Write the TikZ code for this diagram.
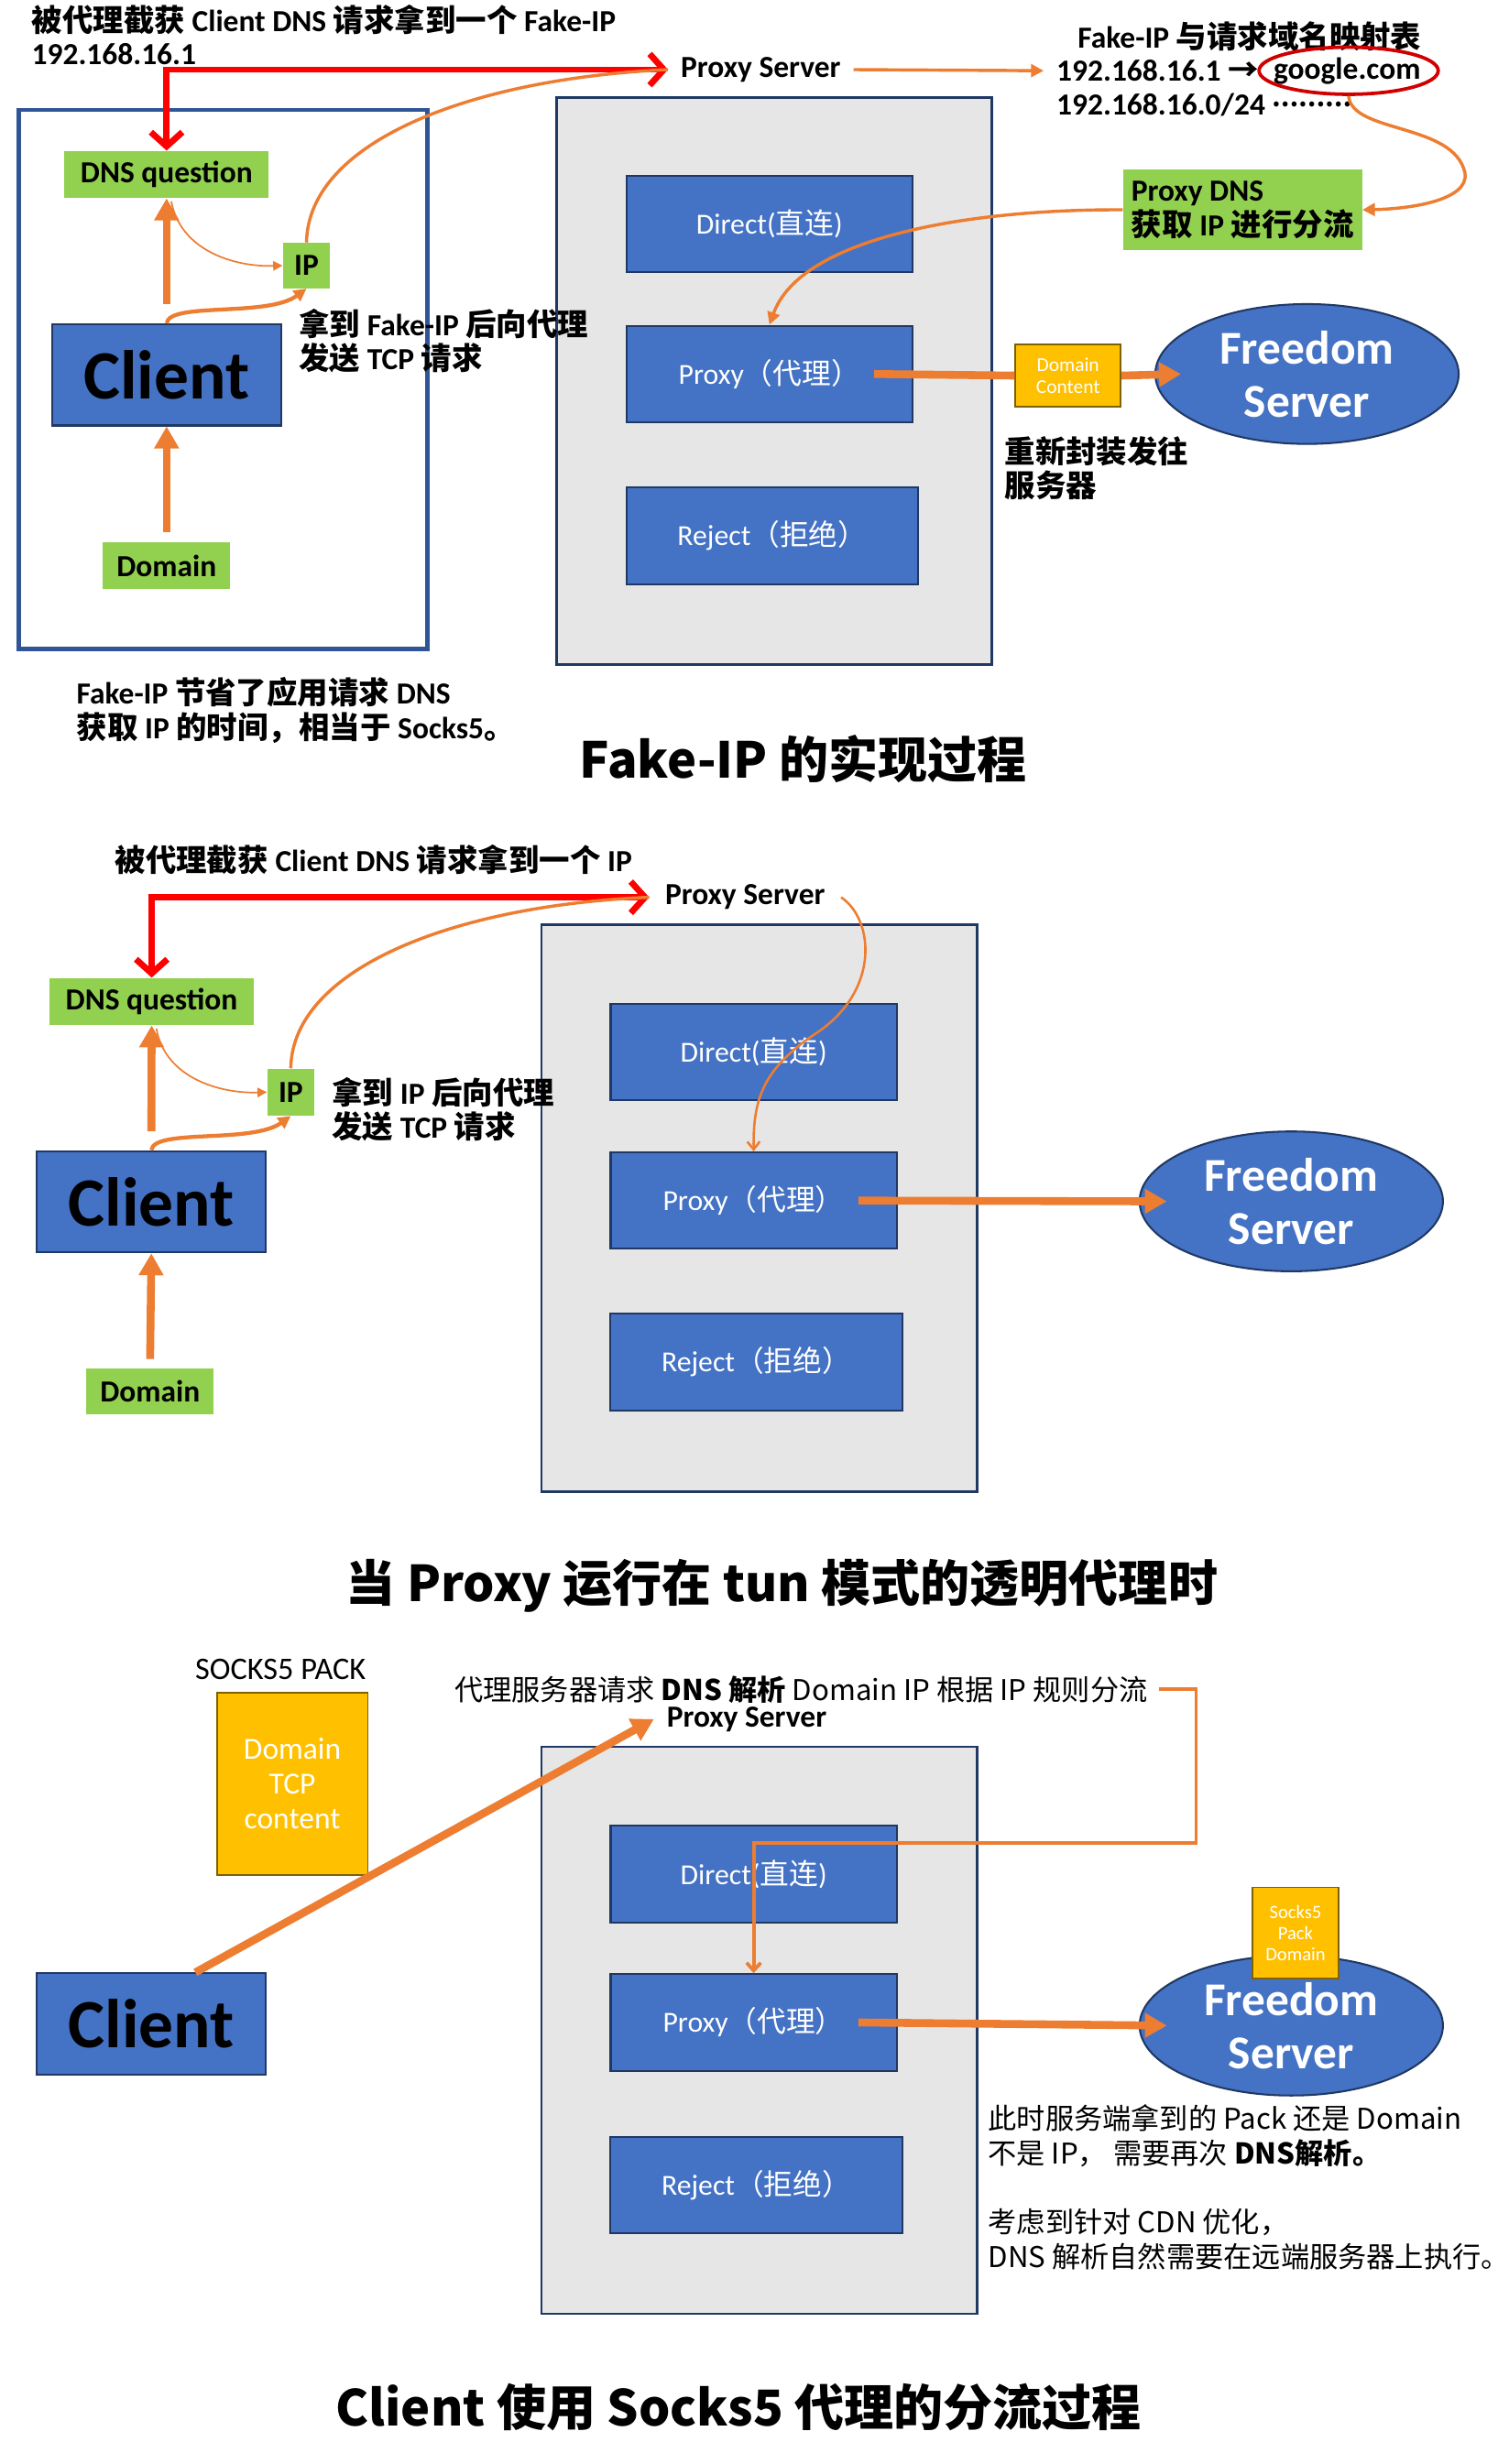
\documentclass[tikz,border=0pt]{standalone}
\usepackage{fontspec}
\setmainfont{Noto Sans CJK SC}
\newfontfamily\cjkfam{Noto Sans CJK SC}
\newfontfamily\latfam{Carlito}
\newXeTeXintercharclass\cjkcls
\newcount\mycnt
\mycnt="3000 \loop \XeTeXcharclass\mycnt=\cjkcls \ifnum\mycnt<"303F \advance\mycnt by 1 \repeat
\mycnt="4E00 \loop \XeTeXcharclass\mycnt=\cjkcls \ifnum\mycnt<"9FFF \advance\mycnt by 1 \repeat
\mycnt="FF00 \loop \XeTeXcharclass\mycnt=\cjkcls \ifnum\mycnt<"FFEF \advance\mycnt by 1 \repeat
\XeTeXcharclass"2026=\cjkcls
\XeTeXcharclass"2192=\cjkcls
\XeTeXinterchartoks 0 \cjkcls = {\cjkfam}
\XeTeXinterchartoks \cjkcls 0 = {\latfam}
\XeTeXinterchartoks 4095 \cjkcls = {\cjkfam}
\XeTeXinterchartoks 4095 0 = {\latfam}
\usetikzlibrary{arrows.meta,shapes.geometric,calc}
\definecolor{cblue}{HTML}{4472C4}
\definecolor{navy}{HTML}{203864}
\definecolor{outl}{HTML}{2F5597}
\definecolor{cgreen}{HTML}{92D050}
\definecolor{cyellow}{HTML}{FFC000}
\definecolor{ybord}{HTML}{7F6000}
\definecolor{cgray}{HTML}{E7E6E6}
\definecolor{corange}{HTML}{ED7D31}
\definecolor{cred}{HTML}{FF0000}
\definecolor{cdred}{HTML}{D00000}
\begin{document}
\begin{tikzpicture}[x=1pt,y=-1pt,
  every node/.style={inner sep=0pt},
  mix/.style={execute at begin node={\XeTeXinterchartokenstate=1\relax}},
  ann/.style={mix, font=\latfam\fontsize{19.5}{22}\selectfont\bfseries, align=left},
  annr/.style={font=\fontsize{18.2}{22}\selectfont, align=left},
  gbox/.style={mix, fill=cgreen, font=\latfam\fontsize{19.5}{22}\selectfont\bfseries},
  rbox/.style={mix, draw=navy, line width=1.2pt, fill=cblue, text=white, font=\latfam\fontsize{18.5}{22}\selectfont, minimum width=182pt, minimum height=61.5pt},
  cbox/.style={draw=navy, line width=1.2pt, fill=cblue, text=black, font=\latfam\fontsize{44}{48}\selectfont\bfseries, minimum width=146pt, minimum height=64.5pt},
  router/.style={draw=navy, line width=1.5pt, fill=cgray, minimum width=277pt, minimum height=361pt},
  area/.style={draw=outl, line width=2.5pt, minimum width=260pt, minimum height=343pt},
  srv/.style={ellipse, draw=navy, line width=1.2pt, fill=cblue, minimum width=193pt, minimum height=89pt},
  srvtext/.style={text=white, font=\latfam\fontsize{30}{34}\selectfont\bfseries, align=center},
  ybox/.style={fill=cyellow, draw=ybord, line width=1pt, text=white, align=center},
  ttl/.style={font=\fontsize{31.5}{36}\selectfont\bfseries},
  redarr/.style={draw=cred, line width=4pt, arrows={Straight Barb[length=9pt,width=20pt]-Straight Barb[length=9pt,width=20pt]}},
  ofat/.style={draw=corange, line width=5pt, -{Triangle[length=14pt,width=15pt]}},
  ofatl/.style={draw=corange, line width=5pt},
  omed/.style={draw=corange, line width=2.5pt, -{Triangle[length=8pt,width=8pt]}},
  omedl/.style={draw=corange, line width=2pt},
  omedb/.style={draw=corange, line width=2pt, -{Triangle[length=8pt,width=8pt]}},
  othin/.style={draw=corange, line width=1pt, -{Triangle[length=6pt,width=6pt]}},
  othinb/.style={draw=corange, line width=1.5pt, -{Straight Barb[length=5pt,width=8pt]}},
  obrk/.style={draw=corange, line width=2.2pt, -{Straight Barb[length=5pt,width=9pt]}}
]
\useasboundingbox (0,0) rectangle (960,1568);
\fill[white] (0,0) rectangle (960,1568);

% ================= Section 1 =================
\node[area] (area1) at (142,241.5) {};
\node[router] (router1) at (492.5,242.5) {};
\node[rbox] (direct1) at (489.5,142.5) {Direct(直连)};
\node[rbox] (proxy1) at (489.5,238) {Proxy（代理）};
\node[rbox, minimum width=185.5pt] (reject1) at (491.3,341) {Reject（拒绝）};
\node[gbox, minimum width=130pt, minimum height=30pt] (dns1) at (106,111) {DNS question};
\node[gbox, minimum width=30pt, minimum height=29pt] (ip1) at (195,169) {IP};
\node[cbox] (client1) at (106,238.5) {Client};
\node[gbox, minimum width=81pt, minimum height=30pt] (domain1) at (106,360) {Domain};
\node[ann, anchor=west, font=\latfam\fontsize{19.5}{21}\selectfont\bfseries] (s1t1) at (20,22) {被代理截获 Client DNS 请求拿到一个 Fake-IP\\192.168.16.1};
\node[ann, anchor=west, inner xsep=8pt] (ps1) at (425,44.3) {Proxy Server};
\node[ann] (map1) at (795,23) {Fake-IP 与请求域名映射表};
\node[ann, anchor=west, inner xsep=8pt] (map2) at (664,45) {192.168.16.1 →};
\node[ann] (goog) at (857,45) {google.com};
\node[ellipse, draw=cdred, line width=2.2pt, minimum width=114pt, minimum height=30pt] (gell) at (858,45) {};
\node[ann, anchor=west, inner xsep=8pt] (map3) at (664,66.5) {192.168.16.0/24 {\cjkfam\fontsize{15}{15}\selectfont\raisebox{5pt}{………}}};
\node[gbox, align=left, minimum width=152pt, minimum height=51pt] (pdns) at (790.5,133.5) {Proxy DNS\\获取 IP 进行分流};
\node[srv] (free1) at (831.5,238) {};
\node[srvtext] (free1t) at (free1.center) {Freedom\\Server};
\node[ybox, minimum width=67pt, minimum height=40pt, font=\latfam\fontsize{12.5}{14}\selectfont] (dc1) at (679.5,239) {Domain\\Content};
\node[ann, anchor=west] (s1t2) at (190,217) {拿到 Fake-IP 后向代理\\发送 TCP 请求};
\node[ann, anchor=west] (s1t3) at (639,298) {重新封装发往\\服务器};
\node[ann, anchor=west] (s1t4) at (48.5,452) {Fake-IP 节省了应用请求 DNS\\获取 IP 的时间，相当于 Socks5。};
\node[ttl] (title1) at (511,483) {Fake-IP 的实现过程};

\draw[redarr] (ps1.west) -| (dns1.north);
\draw[ofat] ([yshift=12pt]client1.north) -- (dns1.south);
\draw[ofat] ([yshift=6pt]domain1.north) -- (client1.south);
\draw[othin] ([xshift=3pt,yshift=-2pt]dns1.south) .. controls (115,160) and (150,170) .. (ip1.west);
\draw[omed] (client1.north) .. controls (108,192) and (170,202) .. (ip1.south);
\draw[omedl] (ip1.north) .. controls (196,90) and (300,50) .. (ps1.west);
\draw[omedb] (ps1.east) -- (map2.west);
\draw[omedb] (gell.south) .. controls (860,85) and (925,78) .. (932,110) .. controls (935,128) and (895,133) .. (pdns.east);
\draw[omedb] (pdns.west) .. controls (620,133) and (510,150) .. (proxy1.north);
\draw[ofatl] ([xshift=-25pt]proxy1.east) -- (dc1.west);
\draw[ofat] (dc1.east) -- ([xshift=17pt]free1.west);

% ================= Section 2 =================
\node[router] (router2) at (483,768.8) {};
\node[rbox] (direct2) at (479.5,669.4) {Direct(直连)};
\node[rbox] (proxy2) at (479.5,764) {Proxy（代理）};
\node[rbox, minimum width=185.5pt] (reject2) at (481.2,866.8) {Reject（拒绝）};
\node[gbox, minimum width=130pt, minimum height=30pt] (dns2) at (96.5,637.3) {DNS question};
\node[gbox, minimum width=30pt, minimum height=30pt] (ip2) at (185,695) {IP};
\node[cbox] (client2) at (96.3,764.7) {Client};
\node[gbox, minimum width=81pt, minimum height=29pt] (domain2) at (95.5,885.5) {Domain};
\node[ann, anchor=west] (s2t1) at (73,547) {被代理截获 Client DNS 请求拿到一个 IP};
\node[ann, anchor=west, inner xsep=10pt] (ps2) at (413,571) {Proxy Server};
\node[ann, anchor=west] (s2t2) at (211,706) {拿到 IP 后向代理\\发送 TCP 请求};
\node[srv] (free2) at (821.5,764.5) {};
\node[srvtext] (free2t) at (free2.center) {Freedom\\Server};
\node[ttl] (title2) at (497.5,1009) {当 Proxy 运行在 tun 模式的透明代理时};

\draw[redarr] (ps2.west) -| (dns2.north);
\draw[ofat] ([yshift=12pt]client2.north) -- (dns2.south);
\draw[ofat] ([yshift=6pt]domain2.north) -- (client2.south);
\draw[othin] ([xshift=3pt,yshift=-2pt]dns2.south) .. controls (105,686) and (140,696) .. (ip2.west);
\draw[omed] (client2.north) .. controls (98,718) and (160,728) .. (ip2.south);
\draw[omedl] (ip2.north) .. controls (186,616) and (290,576) .. (ps2.west);
\draw[othinb] (ps2.east) .. controls (556,585) and (560,630) .. (520,657) .. controls (485,680) and (479,700) .. (proxy2.north);
\draw[ofat] ([xshift=-25pt]proxy2.east) -- ([xshift=18pt]free2.west);

% ================= Section 3 =================
\node[router] (router3) at (483,1292) {};
\node[rbox] (direct3) at (479.5,1192.7) {Direct(直连)};
\node[rbox] (proxy3) at (479.5,1287) {Proxy（代理）};
\node[rbox, minimum width=185.5pt] (reject3) at (481.2,1390.5) {Reject（拒绝）};
\node[cbox] (client3) at (96.3,1288) {Client};
\node[font=\latfam\fontsize{20}{22}\selectfont] (sp) at (178.5,1062.6) {SOCKS5 PACK};
\node[ybox, minimum width=96pt, minimum height=116pt, font=\latfam\fontsize{19.5}{22}\selectfont] (pack) at (186,1135) {Domain\\TCP\\content};
\node[annr, anchor=west, inner xsep=7pt] (txt3) at (282,1075) {代理服务器请求 \textbf{DNS 解析} Domain IP 根据 IP 规则分流};
\node[ann, anchor=west, inner xsep=8pt] (ps3) at (416,1094) {Proxy Server};
\node[srv] (free3) at (821.5,1289) {};
\node[srvtext] (free3t) at (free3.center) {Freedom\\Server};
\node[ybox, minimum width=55pt, minimum height=58pt, font=\latfam\fontsize{12}{13.4}\selectfont] (spd) at (824.2,1230) {Socks5\\Pack\\Domain};
\node[annr, anchor=west] (n1) at (628.5,1359) {此时服务端拿到的 Pack 还是 Domain\\不是 IP， 需要再次 \textbf{DNS解析。}};
\node[annr, anchor=west] (n2) at (628.5,1425) {考虑到针对 CDN 优化，\\DNS 解析自然需要在远端服务器上执行。};
\node[ttl] (title3) at (470,1532) {Client 使用 Socks5 代理的分流过程};

\coordinate (b3) at (761,1172.7);
\draw[ofat] ([xshift=28pt]client3.north) -- (ps3.west);
\draw[obrk] (txt3.east) -| (b3) -| (proxy3.north);
\draw[ofat] ([xshift=-25pt]proxy3.east) -- ([xshift=18pt]free3.west);
\end{tikzpicture}
\end{document}
